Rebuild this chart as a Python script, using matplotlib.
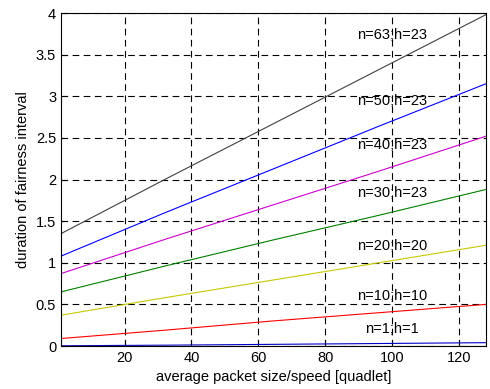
import numpy as np
import matplotlib.pyplot as plt

plt.rcParams['font.family'] = ['Liberation Sans', 'DejaVu Sans']

# x positions (average packet size / speed, quadlets)
x = [1, 32, 64, 96, 128]

# duration of fairness interval for each (n, h)
n63 = [1.35, 2.0, 2.66, 3.32, 3.98]
n50 = [1.08, 1.60, 2.12, 2.64, 3.15]
n40 = [0.87, 1.28, 1.69, 2.10, 2.52]
n30 = [0.65, 0.96, 1.27, 1.57, 1.88]
n20 = [0.37, 0.58, 0.79, 1.00, 1.21]
n10 = [0.09, 0.19, 0.30, 0.40, 0.50]
n1_a = [0.003, 0.01, 0.02, 0.03, 0.04]
n1_b = [0.0, 0.0, 0.0, 0.0, 0.0]

series = [n63, n50, n40, n30, n20, n10, n1_a, n1_b]
colors = ['#404040', '#0000ff', '#cc00cc', '#008000', '#c8c800', '#ff0000', '#0000cc', '#c8c800']

labels = ['n=63;h=23', 'n=50;h=23', 'n=40;h=23', 'n=30;h=23',
          'n=20;h=20', 'n=10;h=10', 'n=1;h=1']
label_y = [3.74, 2.94, 2.41, 1.84, 1.20, 0.60, 0.20]

fig = plt.figure(figsize=(4.9, 3.89), dpi=100)
ax = fig.add_axes([0.1245, 0.1105, 0.867, 0.856])

for ys, c in zip(series, colors):
    ax.plot(x, ys, color=c, linewidth=0.8)

for lab, ly in zip(labels, label_y):
    ax.text(100, ly, lab, ha='center', va='center', fontsize=10.5)

ax.set_xlim(1, 128)
ax.set_ylim(0, 4)
ax.set_xticks([20, 40, 60, 80, 100, 120])
ax.set_yticks([0, 0.5, 1, 1.5, 2, 2.5, 3, 3.5, 4])
ax.set_yticklabels(['0', '0.5', '1', '1.5', '2', '2.5', '3', '3.5', '4'])
ax.grid(True, color='black', linestyle=(0, (6, 4)), linewidth=0.8)
ax.tick_params(direction='in', labelsize=10.5, length=4)
for s in ax.spines.values():
    s.set_linewidth(0.8)

ax.set_xlabel('average packet size/speed [quadlet]', fontsize=10.5)
ax.set_ylabel('duration of fairness interval', fontsize=10.5)

fig.savefig('out.png', dpi=100)
